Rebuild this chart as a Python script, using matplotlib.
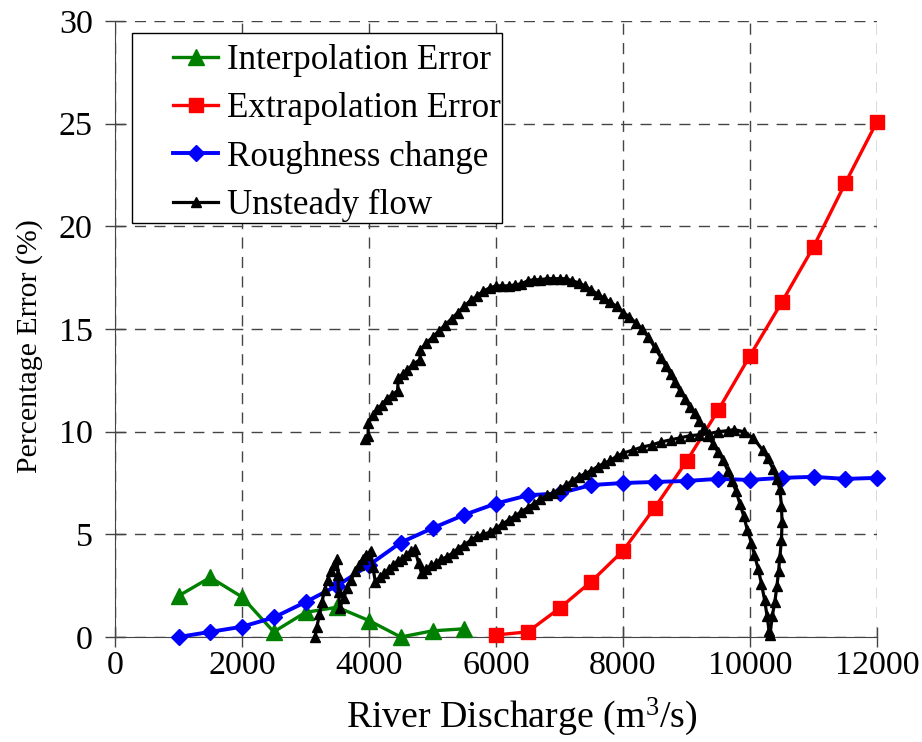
import matplotlib
matplotlib.use("Agg")
import matplotlib.pyplot as plt
import matplotlib.patches as patches

plt.rcParams['font.family'] = ['Liberation Serif', 'DejaVu Serif']
plt.rcParams['mathtext.fontset'] = 'custom'
plt.rcParams['mathtext.rm'] = 'Liberation Serif'
plt.rcParams['mathtext.it'] = 'Liberation Serif:italic'

# data
interp_q = [1000, 1500, 2000, 2500, 3000, 3500, 4000, 4500, 5000, 5500]
interp_err = [2.0, 2.9, 1.95, 0.25, 1.2, 1.45, 0.8, 0.0, 0.3, 0.4]

extrap_q = [6000, 6500, 7000, 7500, 8000, 8500, 9000, 9500, 10000, 10500, 11000, 11500, 12000]
extrap_err = [0.1, 0.25, 1.4, 2.7, 4.2, 6.3, 8.55, 11.05, 13.7, 16.3, 19.0, 22.1, 25.1]

rough_q = [1000, 1500, 2000, 2500, 3000, 3500, 4000, 4500, 5000, 5500, 6000, 6500,
           7000, 7500, 8000, 8500, 9000, 9500, 10000, 10500, 11000, 11500, 12000]
rough_err = [0.0, 0.25, 0.5, 0.95, 1.7, 2.5, 3.5, 4.6, 5.3, 5.95, 6.5, 6.9,
             7.0, 7.4, 7.5, 7.55, 7.6, 7.7, 7.65, 7.75, 7.8, 7.7, 7.75]

# unsteady flow loop, in drawing order
unsteady_q = [
    3150, 3180, 3220, 3260, 3300, 3350, 3400, 3450, 3500, 3510, 3520, 3540,
    3600, 3660, 3720, 3780, 3840, 3900, 3960, 4030, 4060, 4100,
    4170, 4240, 4310, 4380, 4450, 4520, 4590, 4660, 4720, 4780, 4830,
    4900, 4980, 5060, 5140, 5230, 5320, 5400, 5500, 5600, 5700, 5800, 5900,
    6000, 6100, 6200, 6300, 6400, 6500, 6600, 6700, 6800, 6900, 7000, 7100,
    7200, 7300, 7400, 7500, 7600, 7700, 7800, 7900, 8000, 8150, 8300, 8450,
    8600, 8750, 8900, 9050, 9200, 9350, 9500, 9650, 9750, 9900, 10050, 10200,
    10280, 10360, 10420, 10470, 10495, 10505, 10495, 10470, 10450, 10425,
    10390, 10350, 10315,
    10300, 10270, 10230, 10180, 10130, 10070, 10020, 9960, 9900, 9840, 9780,
    9720, 9650, 9580, 9500, 9420, 9340, 9270, 9200, 9130, 9050, 8980, 8900,
    8820, 8750, 8670, 8600, 8500, 8400, 8300, 8200, 8100, 8000, 7900, 7800,
    7700, 7600, 7500, 7400, 7300, 7200, 7100, 7000, 6900, 6800, 6700, 6600,
    6500, 6400, 6300, 6200, 6100, 6000, 5900, 5800, 5700, 5600, 5500, 5400,
    5300, 5200, 5100, 5000, 4900, 4810, 4800, 4700, 4600, 4530, 4460, 4450,
    4370, 4280, 4200, 4130, 4060, 3990, 3985, 3940,
]
unsteady_err = [
    0.0, 0.5, 1.1, 1.7, 2.3, 2.8, 3.2, 3.5, 3.8, 3.0, 2.2, 1.4,
    1.9, 2.4, 2.8, 3.2, 3.5, 3.8, 4.0, 4.2, 3.4, 2.7,
    2.9, 3.1, 3.3, 3.5, 3.7, 3.8, 4.0, 4.2, 4.3, 3.6, 3.1,
    3.3, 3.5, 3.6, 3.8, 3.9, 4.1, 4.3, 4.5, 4.7, 4.9, 5.0, 5.1,
    5.3, 5.5, 5.7, 5.9, 6.1, 6.3, 6.5, 6.7, 6.9, 7.0, 7.2, 7.4,
    7.6, 7.8, 7.95, 8.1, 8.3, 8.45, 8.6, 8.8, 8.95, 9.1, 9.25, 9.35,
    9.5, 9.6, 9.7, 9.8, 9.85, 9.9, 10.0, 10.05, 10.1, 10.0, 9.7, 9.1,
    8.7, 8.2, 7.7, 7.2, 6.4, 5.6, 4.7, 3.9, 3.2, 2.5,
    1.7, 1.0, 0.1,
    0.3, 1.0, 1.8, 2.6, 3.3, 4.0, 4.6, 5.2, 5.9, 6.5, 7.1,
    7.6, 8.1, 8.6, 9.0, 9.4, 9.8, 10.2, 10.5, 10.9, 11.2, 11.6, 12.0,
    12.4, 12.8, 13.2, 13.6, 14.1, 14.6, 15.0, 15.3, 15.6, 15.8, 16.1, 16.3,
    16.5, 16.7, 16.9, 17.1, 17.25, 17.35, 17.45, 17.45, 17.45, 17.45, 17.4, 17.4,
    17.35, 17.2, 17.15, 17.1, 17.1, 17.1, 17.0, 16.85, 16.6, 16.4, 16.1, 15.8,
    15.5, 15.2, 14.9, 14.6, 14.3, 14.0, 13.5, 13.3, 13.0, 12.8, 12.6, 12.0,
    11.8, 11.6, 11.3, 11.1, 10.8, 10.4, 9.8, 9.65,
]

x_ticks = [0, 2000, 4000, 6000, 8000, 10000, 12000]
y_ticks = [0, 5, 10, 15, 20, 25, 30]

fig = plt.figure(figsize=(9.22, 7.42), dpi=100)
ax = fig.add_axes([115/922, 105/742, 762/922, 616/742])

ax.plot(interp_q, interp_err, color='#008000', lw=2.4, marker='^', ms=11.5,
        clip_on=False, zorder=3, label='Interpolation Error')
ax.plot(extrap_q, extrap_err, color='#FF0000', lw=2.4, marker='s', ms=10.5,
        clip_on=False, zorder=3, label='Extrapolation Error')
ax.plot(rough_q, rough_err, color='#0000FF', lw=2.8, marker='D', ms=8.5,
        clip_on=False, zorder=3, label='Roughness change')
ax.plot(unsteady_q, unsteady_err, color='black', lw=2.3, marker='^', ms=6.5,
        clip_on=False, zorder=4, label='Unsteady flow')

ax.set_xlim(0, 12000)
ax.set_ylim(0, 30)
ax.set_xticks(x_ticks)
ax.set_yticks(y_ticks)
ax.tick_params(direction='inout', length=14, width=1, colors='#444444',
               labelsize=24.5, labelcolor='black')
ax.tick_params(axis='y', pad=9)
ax.tick_params(axis='x', pad=3)
ax.grid(True, color='#444444', lw=1, linestyle=(0, (8, 6)))
for s in ['top', 'right']:
    ax.spines[s].set_visible(False)
for s in ['left', 'bottom']:
    ax.spines[s].set_color('#444444')

ax.set_xlabel('River Discharge (m$^3$/s)', fontsize=27.3)
ax.xaxis.set_label_coords(0.534, -0.095)
ax.set_ylabel('Percentage Error (%)', fontsize=21.5)
ax.yaxis.set_label_coords(-0.094, 0.472)

# legend box (white, black edge) drawn by hand, legend itself without frame
box = patches.Rectangle((0.0223, 0.672), 0.4857, 0.3085, transform=ax.transAxes,
                        facecolor='white', edgecolor='black', lw=1, zorder=5,
                        clip_on=False)
ax.add_patch(box)
leg = ax.legend(loc='upper left', bbox_to_anchor=(0.0761, 0.962), fontsize=25.2,
                frameon=False, handlelength=1.3, handletextpad=0.25,
                labelspacing=0.43, borderpad=0, borderaxespad=0)
leg.set_zorder(6)

fig.savefig('out.png', dpi=100)
